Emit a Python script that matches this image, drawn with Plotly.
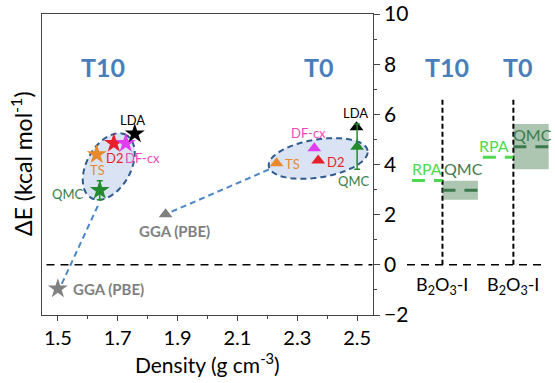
import numpy as np
import plotly.graph_objects as go

# ---------------- data ----------------
methods = ["GGA (PBE)", "TS", "D2", "DF-cx", "LDA", "QMC"]
t10_density = [1.50, 1.63, 1.687, 1.727, 1.757, 1.64]
t10_energy = [-0.95, 4.40, 4.85, 4.85, 5.23, 2.97]
t0_density = [1.86, 2.231, 2.37, 2.357, 2.498, 2.50]
t0_energy = [2.02, 4.05, 4.16, 4.65, 5.49, 4.71]
qmc_err = {"T10": 0.38, "T0": 0.90}
rpa = {"T10": 3.36, "T0": 4.29}
colors = {"GGA (PBE)": "#808080", "TS": "#E8892E", "D2": "#E8202E",
          "DF-cx": "#E03CF0", "LDA": "#000000", "QMC": "#238B2E"}
text_colors = {"GGA (PBE)": "#808080", "TS": "#E8892E", "D2": "#E8202E",
               "DF-cx": "#F048B8", "LDA": "#000000", "QMC": "#3A7D44"}
# connectors (GGA point toward cluster)
link_t10_x = [1.513, 1.637]
link_t10_y = [-0.76, 2.44]
link_t0_x = [1.88, 2.213]
link_t0_y = [2.12, 3.84]

# ---------------- layout geometry ----------------
W, H = 555, 383
ML, MR, MT, MB = 42, 0, 14, 68
XR = [1.447, 2.552]
YR = [-2, 10]
main_dom = [0, 0.6446]
right_dom = [0.7115, 0.988]
pw = (W - ML - MR) * (main_dom[1] - main_dom[0])
ph = H - MT - MB
sx = pw / (XR[1] - XR[0])
sy = ph / (YR[1] - YR[0])

FONT = "Lato, Open Sans, sans-serif"
fig = go.Figure()

def ellipse(cx, cy, a, b, ang):
    t = np.linspace(0, 2 * np.pi, 120)
    th = np.radians(ang)
    px = a * np.cos(t) * np.cos(th) - b * np.sin(t) * np.sin(th)
    py = a * np.cos(t) * np.sin(th) + b * np.sin(t) * np.cos(th)
    xs = cx + px / sx
    ys = cy + py / sy
    d = "M " + " L ".join(f"{x:.5f},{y:.5f}" for x, y in zip(xs, ys)) + " Z"
    return d

for (cx, cy, a, b, ang) in [(1.67, 3.92, 36, 22, 61), (2.37, 4.24, 50, 19, 9)]:
    fig.add_shape(type="path", path=ellipse(cx, cy, a, b, ang), xref="x", yref="y",
                  fillcolor="#DAE3F3", line=dict(color="#2F5A8E", width=2, dash="6px,4px"),
                  layer="below")

# zero line main
fig.add_trace(go.Scatter(x=[XR[0] + 0.015, XR[1]], y=[0, 0], mode="lines",
                         line=dict(color="black", width=1.5, dash="8px,6px"),
                         hoverinfo="skip", showlegend=False))
# connectors
for lx, ly in [(link_t10_x, link_t10_y), (link_t0_x, link_t0_y)]:
    fig.add_trace(go.Scatter(x=lx, y=ly, mode="lines",
                             line=dict(color="#4A86C8", width=2, dash="6px,4px"),
                             hoverinfo="skip", showlegend=False))

# markers
for i, m in enumerate(methods):
    ey_t10 = dict(type="data", array=[qmc_err["T10"]], color=colors[m], thickness=1.5, width=3) if m == "QMC" else None
    ey_t0 = dict(type="data", array=[qmc_err["T0"]], color=colors[m], thickness=1.5, width=3) if m == "QMC" else None
    fig.add_trace(go.Scatter(x=[t10_density[i]], y=[t10_energy[i]], mode="markers",
                             marker=dict(symbol="star", size=15, color=colors[m], line=dict(width=0)),
                             error_y=ey_t10, showlegend=False))
    fig.add_trace(go.Scatter(x=[t0_density[i]], y=[t0_energy[i]], mode="markers",
                             marker=dict(symbol="triangle-up", size=12, color=colors[m], line=dict(width=0)),
                             error_y=ey_t0, showlegend=False))

# ---------------- right panel ----------------
fig.add_trace(go.Scatter(x=[0, 3.85], y=[0, 0], mode="lines", xaxis="x2", yaxis="y2",
                         line=dict(color="black", width=1.5, dash="8px,6px"), showlegend=False))
for xv in [1, 3]:
    fig.add_trace(go.Scatter(x=[xv, xv], y=[0, 6.7], mode="lines", xaxis="x2", yaxis="y2",
                             line=dict(color="black", width=2, dash="5px,3px"), showlegend=False))
rpa_lab = {"T10": (0.56, 3.86), "T0": (2.45, 4.76)}
qmc_lab = {"T10": (1.58, 3.84), "T0": (3.55, 5.18)}
for key, x0 in [("T10", 1), ("T0", 3)]:
    q = t10_energy[5] if key == "T10" else t0_energy[5]
    e = qmc_err[key]
    fig.add_shape(type="rect", xref="x2", yref="y2", x0=x0, x1=x0 + 1, y0=q - e, y1=q + e,
                  fillcolor="rgba(60,120,70,0.42)", line=dict(width=0), layer="below")
    fig.add_trace(go.Scatter(x=[x0, x0 + 1], y=[q, q], mode="lines", xaxis="x2", yaxis="y2",
                             line=dict(color="#3C7A4E", width=3, dash="13px,9px"), showlegend=False))
    fig.add_trace(go.Scatter(x=[x0 - 0.86, x0], y=[rpa[key], rpa[key]], mode="lines", xaxis="x2", yaxis="y2",
                             line=dict(color="#4DDB4D", width=3, dash="13px,9px"), showlegend=False))
    fig.add_annotation(x=rpa_lab[key][0], y=rpa_lab[key][1], xref="x2", yref="y2", text="RPA", showarrow=False,
                       font=dict(size=16, color="#4DDB4D", family=FONT))
    fig.add_annotation(x=qmc_lab[key][0], y=qmc_lab[key][1], xref="x2", yref="y2", text="QMC", showarrow=False,
                       font=dict(size=16, color="#3C7A4E", family=FONT))
    fig.add_annotation(x=x0, y=-0.84, xref="x2", yref="y2", text="B<sub>2</sub>O<sub>3</sub>-I",
                       showarrow=False, font=dict(size=18, color="black", family=FONT))
    fig.add_annotation(x=x0 + 0.12, y=7.9, xref="x2", yref="y2", text="<b>" + key + "</b>", showarrow=False,
                       font=dict(size=25, color="#4A7EBB", family=FONT))

# ---------------- labels in main ----------------
lab = dict(showarrow=False, xref="x", yref="y")
fig.add_annotation(x=1.65, y=7.9, text="<b>T10</b>", font=dict(size=25, color="#4A7EBB", family=FONT), **lab)
fig.add_annotation(x=2.372, y=7.9, text="<b>T0</b>", font=dict(size=25, color="#4A7EBB", family=FONT), **lab)
fs = 13
def lf(m):
    return dict(size=fs, color=text_colors[m], family=FONT)
# T10 labels
fig.add_annotation(x=1.751, y=5.76, text="LDA", font=lf("LDA"), **lab)
fig.add_annotation(x=1.654, y=4.27, text="D2", font=lf("D2"), xanchor="left", **lab)
fig.add_annotation(x=1.717, y=4.27, text="DF-cx", font=lf("DF-cx"), xanchor="left", **lab)
fig.add_annotation(x=1.632, y=3.8, text="TS", font=lf("TS"), **lab)
fig.add_annotation(x=1.592, y=2.83, text="QMC", font=lf("QMC"), xanchor="right", **lab)
fig.add_annotation(x=1.545, y=-0.97, text="<b>GGA (PBE)</b>", font=dict(size=15, color="#808080", family=FONT), xanchor="left", **lab)
# T0 labels
fig.add_annotation(x=2.493, y=6.04, text="LDA", font=lf("LDA"), **lab)
fig.add_annotation(x=2.339, y=5.24, text="DF-cx", font=lf("DF-cx"), **lab)
fig.add_annotation(x=2.391, y=4.08, text="D2", font=lf("D2"), xanchor="left", **lab)
fig.add_annotation(x=2.251, y=4.04, text="TS", font=lf("TS"), xanchor="left", **lab)
fig.add_annotation(x=2.487, y=3.36, text="QMC", font=lf("QMC"), **lab)
fig.add_annotation(x=1.891, y=1.36, text="<b>GGA (PBE)</b>", font=dict(size=15, color="#808080", family=FONT), **lab)

# y title
fig.add_annotation(xref="paper", yref="paper", x=-0.041, y=1 - (163 - MT) / ph, text="ΔE (kcal mol<sup>-1</sup>)",
                   textangle=-90, showarrow=False, font=dict(size=23, color="black", family=FONT),
                   xanchor="center", yanchor="middle")

fig.update_layout(
    width=W, height=H, margin=dict(l=ML, r=MR, t=MT, b=MB),
    paper_bgcolor="white", plot_bgcolor="white",
    font=dict(family=FONT, color="black"),
    showlegend=False,
    xaxis=dict(domain=main_dom, range=XR, showline=True, linecolor="#444", linewidth=1.3, mirror=True,
               ticks="outside", ticklen=5, tickcolor="#444", tick0=1.5, dtick=0.2, tickformat=".1f",
               minor=dict(ticks="outside", ticklen=3, dtick=0.1, tickcolor="#444"),
               showgrid=False, zeroline=False, tickfont=dict(size=20, family=FONT),
               title=dict(text="Density (g cm<sup>-3</sup>)", font=dict(size=21, family=FONT), standoff=4)),
    yaxis=dict(domain=[0, 1], range=YR, side="right", showline=True, linecolor="#444", linewidth=1.3, mirror=True,
               ticks="outside", ticklen=6, tickcolor="#444", dtick=2,
               minor=dict(ticks="outside", ticklen=3, dtick=1, tickcolor="#444"),
               showgrid=False, zeroline=False, tickfont=dict(size=21, family=FONT)),
    xaxis2=dict(domain=right_dom, range=[0, 4], visible=False, anchor="y2"),
    yaxis2=dict(domain=[0, 1], range=YR, visible=False, anchor="x2"),
)

fig.write_html("out.html")
